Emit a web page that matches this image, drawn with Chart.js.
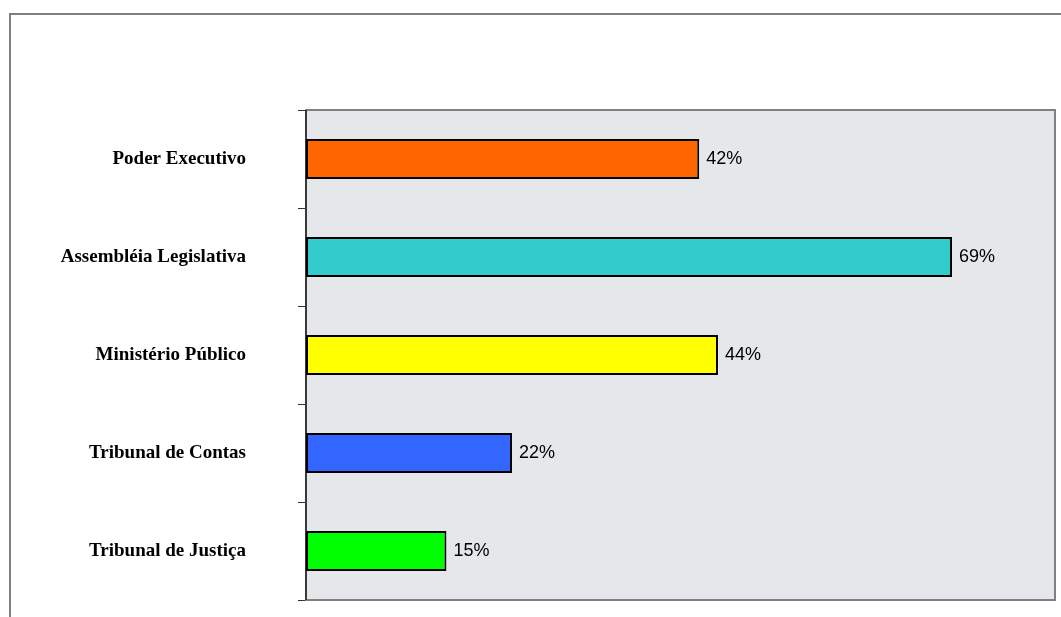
<!DOCTYPE html>
<html>
<head>
<meta charset="utf-8">
<script src="https://cdn.jsdelivr.net/npm/chart.js@4"></script>
<style>
  html, body { margin: 0; padding: 0; background: #fff; overflow: hidden; }
  #frame {
    position: absolute; left: 9px; top: 13px; width: 1100px; height: 700px;
    border: 2px solid #808080; box-sizing: border-box;
  }
  #wrap { position: absolute; left: 0; top: 0; width: 1061px; height: 617px; }
</style>
</head>
<body>
<div id="frame"></div>
<div id="wrap"><canvas id="chart" width="1061" height="617"></canvas></div>
<script>
const categories = ['Poder Executivo', 'Assembléia Legislativa', 'Ministério Público', 'Tribunal de Contas', 'Tribunal de Justiça'];
const values = [42, 69, 44, 22, 15];
const barColors = ['#FF6600', '#33CCCC', '#FFFF00', '#3366FF', '#00FF00'];
const axisMax = 80;

// marble-ish plot background + gray border
const plotArea = {
    id: 'plotArea',
    beforeDatasetsDraw(chart) {
        const { ctx, chartArea: a } = chart;
        ctx.save();
        ctx.fillStyle = '#e6e7ea';
        ctx.fillRect(a.left, a.top, a.right - a.left, a.bottom - a.top);
        ctx.strokeStyle = '#808080';
        ctx.lineWidth = 2;
        ctx.strokeRect(a.left, a.top, a.right - a.left, a.bottom - a.top);
        ctx.beginPath();
        ctx.strokeStyle = '#222';
        ctx.lineWidth = 1.5;
        ctx.moveTo(a.left, a.top);
        ctx.lineTo(a.left, a.bottom);
        ctx.stroke();
        ctx.restore();
    }
};

// value labels at bar ends
const valueLabels = {
    id: 'valueLabels',
    afterDatasetsDraw(chart) {
        const { ctx } = chart;
        const meta = chart.getDatasetMeta(0);
        ctx.save();
        ctx.font = '18px "Liberation Sans", Arial, sans-serif';
        ctx.fillStyle = '#000';
        ctx.textAlign = 'left';
        ctx.textBaseline = 'middle';
        meta.data.forEach((bar, i) => {
            ctx.fillText(values[i] + '%', bar.x + 7, bar.y);
        });
        ctx.restore();
    }
};

new Chart(document.getElementById('chart'), {
    type: 'bar',
    data: {
        labels: categories,
        datasets: [{
            data: values,
            backgroundColor: barColors,
            borderColor: '#000',
            borderWidth: 2,
            borderSkipped: false,
            barPercentage: 0.41,
            categoryPercentage: 1
        }]
    },
    options: {
        indexAxis: 'y',
        responsive: false,
        animation: false,
        events: [],
        layout: { padding: { left: 0, top: 110, right: 6, bottom: 17 } },
        plugins: {
            legend: { display: false },
            tooltip: { enabled: false }
        },
        scales: {
            x: {
                display: false,
                min: 0,
                max: axisMax
            },
            y: {
                afterFit(scale) {
                    scale.width = 306;
                    scale.paddingTop = 0;
                    scale.paddingBottom = 0;
                },
                border: { display: false },
                grid: {
                    drawOnChartArea: false,
                    tickLength: 8,
                    color: '#333',
                    offset: true
                },
                ticks: {
                    padding: 52,
                    color: '#000',
                    font: { family: '"Liberation Serif", "Times New Roman", serif', size: 19, weight: 'bold' }
                }
            }
        }
    },
    plugins: [plotArea, valueLabels]
});
</script>
</body>
</html>
